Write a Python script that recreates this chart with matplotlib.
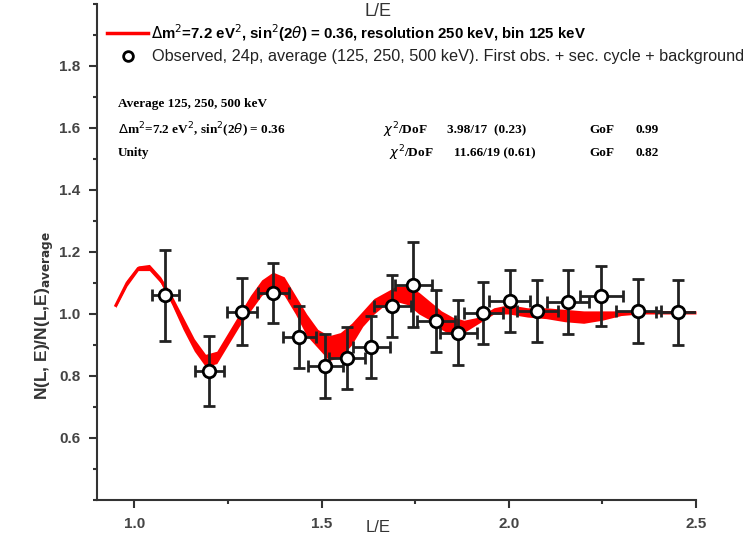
import numpy as np
import matplotlib.pyplot as plt
from matplotlib.ticker import MultipleLocator

# Datos observados (L/E, razón, errores)
le_obs = [1.082, 1.200, 1.288, 1.371, 1.440, 1.510, 1.568, 1.633, 1.689, 1.745,
          1.806, 1.865, 1.932, 2.002, 2.076, 2.159, 2.247, 2.346, 2.453]
ratio_obs = [1.060, 0.816, 1.008, 1.068, 0.925, 0.832, 0.858, 0.894, 1.026, 1.094,
             0.977, 0.940, 1.003, 1.043, 1.010, 1.039, 1.058, 1.010, 1.006]
yerr_obs = [0.147, 0.112, 0.108, 0.097, 0.100, 0.103, 0.100, 0.100, 0.100, 0.137,
            0.100, 0.105, 0.100, 0.100, 0.100, 0.102, 0.097, 0.103, 0.105]
xerr_obs = [0.036, 0.038, 0.040, 0.042, 0.044, 0.046, 0.048, 0.050, 0.050, 0.050,
            0.050, 0.050, 0.052, 0.054, 0.055, 0.056, 0.058, 0.060, 0.060]

# Banda del modelo (borde superior e inferior)
le_mod = [0.95, 0.98, 1.01, 1.04, 1.07, 1.10, 1.13, 1.16, 1.19, 1.22, 1.25, 1.28,
          1.31, 1.34, 1.37, 1.40, 1.43, 1.46, 1.49, 1.52, 1.55, 1.58, 1.61, 1.64,
          1.67, 1.70, 1.73, 1.76, 1.79, 1.82, 1.85, 1.88, 1.92, 1.96, 2.00, 2.05,
          2.10, 2.15, 2.20, 2.25, 2.30, 2.35, 2.40, 2.45, 2.50]
mod_up = [1.035, 1.11, 1.155, 1.16, 1.12, 1.06, 0.99, 0.92, 0.87, 0.88, 0.94, 1.00,
          1.06, 1.11, 1.135, 1.12, 1.06, 1.00, 0.95, 0.93, 0.94, 0.97, 1.01, 1.05,
          1.07, 1.09, 1.09, 1.07, 1.04, 1.01, 0.99, 0.98, 0.99, 1.02, 1.03, 1.02,
          1.02, 1.015, 1.01, 1.01, 1.01, 1.01, 1.01, 1.01, 1.01]
mod_lo = [1.02, 1.09, 1.14, 1.14, 1.10, 1.03, 0.95, 0.88, 0.83, 0.84, 0.90, 0.96,
          1.01, 1.06, 1.08, 1.06, 1.00, 0.93, 0.89, 0.85, 0.86, 0.90, 0.96, 1.00,
          1.03, 1.04, 1.03, 1.00, 0.98, 0.95, 0.93, 0.94, 0.97, 1.00, 1.00, 0.99,
          0.985, 0.975, 0.97, 0.98, 0.995, 1.0, 1.0, 1.0, 1.0]

fig = plt.figure(figsize=(7.56, 5.37), dpi=100)
ax = fig.add_axes([0.1283, 0.0689, 0.7923, 0.9237])

up = np.array(mod_up)
lo = np.array(mod_lo)
ax.fill_between(le_mod, lo, up, color='red', lw=0, zorder=2)
ax.plot(le_mod, (up + lo) / 2, color='red', lw=2, zorder=2)

ax.errorbar(le_obs, ratio_obs, yerr=yerr_obs, xerr=xerr_obs, fmt='o', ms=9,
            mfc='white', mec='black', mew=2, ecolor='#222222', elinewidth=2,
            capsize=4, capthick=2, zorder=3)

ax.set_xlim(0.9, 2.5)
ax.set_ylim(0.4, 2.0)
ax.xaxis.set_minor_locator(MultipleLocator(0.25))
ax.yaxis.set_minor_locator(MultipleLocator(0.1))
ax.set_xticks([1.0, 1.5, 2.0, 2.5])
ax.set_xticklabels(['1.0', '1.5', '2.0', '2.5'])
ax.set_yticks([0.6, 0.8, 1.0, 1.2, 1.4, 1.6, 1.8])
ax.spines['top'].set_visible(False)
ax.spines['right'].set_visible(False)
for s in ['left', 'bottom']:
    ax.spines[s].set_linewidth(1.5)
    ax.spines[s].set_color('#333333')
ax.tick_params(which='major', direction='out', length=6, width=1.5, color='#333333',
               labelsize=11, labelcolor='#444444', pad=6)
ax.tick_params(which='minor', direction='out', length=3, width=1.5, color='#333333')
for lab in ax.get_xticklabels() + ax.get_yticklabels():
    lab.set_fontfamily('Liberation Sans')
    lab.set_fontweight('bold')

# Etiquetas de los ejes
fig.text(378/756, 1 - 527/537, 'L/E', ha='center', va='center', fontsize=12,
         family='Liberation Sans', color='#333333')
fig.text(45/756, 1 - 315/537, 'N(L, E)/N(L,E)$_{\\mathbf{average}}$', ha='center', va='center',
         rotation=90, fontsize=12.5, fontweight='bold', family='Liberation Sans', color='#333333')

# Etiqueta superior y leyenda
fig.text(378/756, 1 - 11/537, 'L/E', ha='center', va='center', fontsize=13,
         family='Liberation Sans', color='#333333')
fig.add_artist(plt.Line2D([107/756, 148/756], [1 - 33/537, 1 - 33/537], color='red', lw=2.5))
fig.text(151/756, 1 - 33/537, '$\\Delta$m$^2$=7.2 eV$^2$, sin$^2$(2$\\theta$) = 0.36, resolution 250 keV, bin 125 keV',
         ha='left', va='center', fontsize=10.8, fontweight='bold', family='Liberation Sans')
fig.add_artist(plt.Line2D([128/756], [1 - 56/537], marker='o', ms=7, mfc='white',
                          mec='black', mew=2))
fig.text(152/756, 1 - 56/537, 'Observed, 24p, average (125, 250, 500 keV). First obs. + sec. cycle + background',
         ha='left', va='center', fontsize=11.7, family='Liberation Sans', color='#222222')

serif = 'Liberation Serif'
fs = 9.5
fig.text(118/756, 1 - 104/537, 'Average 125, 250, 500 keV', fontsize=fs, fontweight='bold', family=serif, va='center')
fig.text(118/756, 1 - 130/537, '$\\Delta$m$^2$=7.2 eV$^2$, sin$^2$(2$\\theta$) = 0.36', fontsize=fs, fontweight='bold', family=serif, va='center')
fig.text(118/756, 1 - 153/537, 'Unity', fontsize=fs, fontweight='bold', family=serif, va='center')
fig.text(383/756, 1 - 130/537, '$\\chi^2$/DoF', fontsize=fs, fontweight='bold', family=serif, va='center')
fig.text(447/756, 1 - 130/537, '3.98/17  (0.23)', fontsize=fs, fontweight='bold', family=serif, va='center')
fig.text(589/756, 1 - 130/537, 'GoF', fontsize=fs, fontweight='bold', family=serif, va='center')
fig.text(636/756, 1 - 130/537, '0.99', fontsize=fs, fontweight='bold', family=serif, va='center')
fig.text(389/756, 1 - 153/537, '$\\chi^2$/DoF', fontsize=fs, fontweight='bold', family=serif, va='center')
fig.text(454/756, 1 - 153/537, '11.66/19 (0.61)', fontsize=fs, fontweight='bold', family=serif, va='center')
fig.text(589/756, 1 - 153/537, 'GoF', fontsize=fs, fontweight='bold', family=serif, va='center')
fig.text(636/756, 1 - 153/537, '0.82', fontsize=fs, fontweight='bold', family=serif, va='center')

fig.savefig('out.png', dpi=100)
